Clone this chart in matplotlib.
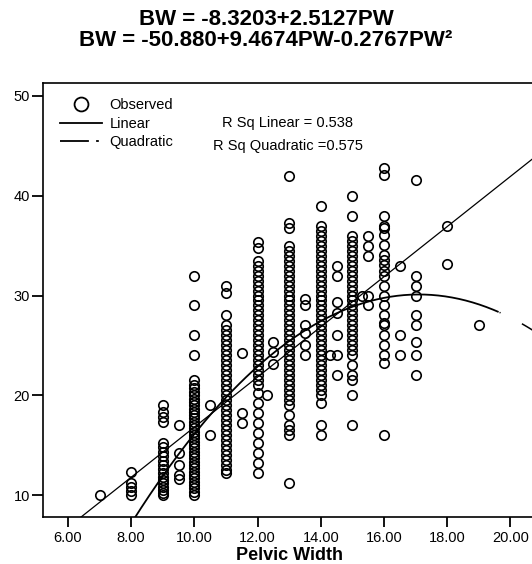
import matplotlib
matplotlib.use("Agg")
import matplotlib.pyplot as plt
from matplotlib.lines import Line2D
import numpy as np

plt.rcParams["font.family"] = ["Liberation Sans", "DejaVu Sans"]
plt.rcParams["font.size"] = 10.5

# observed points, one list per pelvic width column
pw_7 = [10]
pw_8 = [12.3, 11.2, 10.8, 10.4, 10]
pw_9 = [19, 18.3, 17.8, 17.3, 15.2, 14.8, 14.3, 13.9, 13.4, 13, 12.6, 12.2,
        11.8, 11.5, 11.2, 10.8, 10.5, 10.2, 10]
pw_9_5 = [17, 14.2, 13, 12, 11.6]
pw_10 = [32, 29, 26, 24, 21.5, 21, 20.7, 20.3, 20, 19.6, 19.3, 19, 18.6, 18.3,
         18, 17.7, 17.3, 17, 16.7, 16.3, 16, 15.7, 15.3, 15, 14.7, 14.3, 14,
         13.7, 13.3, 13, 12.7, 12.3, 12, 11.7, 11.3, 11, 10.7, 10.3, 10]
pw_10_5 = [19, 16]
pw_11 = [31, 30.3, 28, 27, 26.5, 26, 25.5, 25, 24.5, 24, 23.5, 23, 22.5, 22,
         21.5, 21, 20.5, 20, 19.5, 19, 18.5, 18, 17.5, 17, 16.5, 16, 15.5, 15,
         14.5, 14, 13.5, 13, 12.5, 12.2]
pw_11_5 = [24.2, 18.2, 17.2]
pw_12 = [35.4, 34.8, 33.5, 33, 32.5, 32, 31.5, 31, 30.5, 30, 29.5, 29, 28.5,
         28, 27.5, 27, 26.5, 26, 25.5, 25, 24.5, 24, 23.5, 23, 22.5, 22, 21.5,
         21, 20.2, 19.2, 18.2, 17.2, 16.2, 15.2, 14.2, 13.2, 12.2]
pw_12_3 = [20]
pw_12_5 = [25.3, 24.3, 23.1]
pw_13 = [42, 37.3, 36.8, 35, 34.5, 34, 33.5, 33, 32.5, 32, 31.5, 31, 30.5, 30,
         29.5, 29, 28.5, 28, 27.5, 27, 26.5, 26, 25.5, 25, 24.5, 24, 23.5, 23,
         22.5, 22, 21.5, 21, 20.5, 20, 19.5, 19, 18, 17, 16.5, 16, 11.2]
pw_13_5 = [29.7, 29, 27, 26.2, 25, 24]
pw_14 = [39, 37, 36.5, 36, 35.5, 35, 34.5, 34, 33.5, 33, 32.5, 32, 31.5, 31,
         30.5, 30, 29.5, 29, 28.5, 28, 27.5, 27, 26.5, 26, 25.5, 25, 24.5, 24,
         23.5, 23, 22.5, 22, 21.5, 21, 20.5, 20, 19.2, 17, 16]
pw_14_3 = [24]
pw_14_5 = [33, 32, 29.3, 28.2, 26, 24, 22]
pw_15 = [40, 38, 36, 35.5, 35, 34.5, 34, 33.5, 33, 32.5, 32, 31.5, 31, 30.5,
         30, 29.5, 29, 28.5, 28, 27.5, 27, 26.5, 26, 25.5, 25, 24.5, 24, 23,
         22, 21.5, 20, 17]
pw_15_3 = [30]
pw_15_5 = [36, 35, 34, 30, 29]
pw_16 = [42.8, 42.1, 38, 37, 36.8, 36.1, 35.1, 34.1, 33.6, 33.1, 32.5, 32, 31,
         30, 29, 28, 27.2, 27, 26, 25, 24, 23.2, 16]
pw_16_5 = [33, 26, 24]
pw_17 = [41.6, 32, 31, 30, 28, 27, 25.3, 24, 22]
pw_18 = [37, 33.2]
pw_19 = [27]

columns = {7: pw_7, 8: pw_8, 9: pw_9, 9.5: pw_9_5, 10: pw_10, 10.5: pw_10_5,
           11: pw_11, 11.5: pw_11_5, 12: pw_12, 12.3: pw_12_3, 12.5: pw_12_5,
           13: pw_13, 13.5: pw_13_5, 14: pw_14, 14.3: pw_14_3, 14.5: pw_14_5,
           15: pw_15, 15.3: pw_15_3, 15.5: pw_15_5, 16: pw_16, 16.5: pw_16_5,
           17: pw_17, 18: pw_18, 19: pw_19}

# fitted curves
lin_coef = [-8.3203, 2.5127]
quad_coef = [-50.880, 9.4674, -0.2767]
r2_linear = 0.538
r2_quad = 0.575

x_ticks = [6, 8, 10, 12, 14, 16, 18, 20]
y_ticks = [10, 20, 30, 40, 50]

fig = plt.figure(figsize=(5.32, 5.64), dpi=100)
ax = fig.add_axes([43 / 532, 47 / 564, 499 / 532, 434 / 564])

pw = []
bw = []
for k in columns:
    for v in columns[k]:
        pw.append(k)
        bw.append(v)

ax.plot(pw, bw, linestyle="none", marker="o", ms=6.8, mfc="none",
        mec="black", mew=1.2)

xs = np.linspace(5.2, 21.0, 200)
ax.plot(xs, lin_coef[0] + lin_coef[1] * xs, color="black", lw=0.9)

# quadratic: solid until ~19.6 then dash-dot tail (like the spss output)
xq1 = np.linspace(5.2, 19.6, 200)
xq2 = np.linspace(19.6, 21.0, 30)
ax.plot(xq1, quad_coef[0] + quad_coef[1] * xq1 + quad_coef[2] * xq1 ** 2,
        color="black", lw=1.3)
ax.plot(xq2, quad_coef[0] + quad_coef[1] * xq2 + quad_coef[2] * xq2 ** 2,
        color="black", lw=1.1, linestyle=(36.4, (0.7, 15.7, 20, 1.3)))

ax.set_xlim(5.21, 21.0)
ax.set_ylim(7.8, 51.3)
ax.set_xticks(x_ticks)
ax.set_xticklabels(["%.2f" % t for t in x_ticks])
ax.set_yticks(y_ticks)
ax.set_yticklabels([str(t) for t in y_ticks])
ax.tick_params(direction="out", length=7, width=1.3, labelsize=10.5, pad=3)
ax.tick_params(axis="y", length=8, pad=1.5)
for s in ax.spines.values():
    s.set_linewidth(1.2)

fig.text(289 / 532, 3.5 / 564, "Pelvic Width", ha="center", va="baseline",
         fontsize=13, fontweight="bold")

handles = [Line2D([], [], linestyle="none", marker="o", ms=10, mfc="none",
                  mec="black", mew=1.3),
           Line2D([], [], color="black", lw=1.3),
           Line2D([], [], color="black", lw=1.3, linestyle=(0, (16, 4, 1.5, 4)))]
ax.legend(handles, ["Observed", "Linear", "Quadratic"], loc="upper left",
          bbox_to_anchor=(0.008, 0.995), frameon=False, fontsize=10.5,
          handlelength=2.9, handletextpad=0.5, labelspacing=0.3)

ax.text(0.49, 0.908, "R Sq Linear = %.3f" % r2_linear, transform=ax.transAxes,
        ha="center", va="center", fontsize=10.5)
ax.text(0.49, 0.855, "R Sq Quadratic =%.3f" % r2_quad, transform=ax.transAxes,
        ha="center", va="center", fontsize=10.5)

fig.text(0.5, 1 - 19.5 / 564, "BW = -8.3203+2.5127PW", ha="center",
         va="center", fontsize=16, fontweight="bold")
fig.text(0.5, 1 - 40.5 / 564, "BW = -50.880+9.4674PW-0.2767PW\u00b2",
         ha="center", va="center", fontsize=16, fontweight="bold")

fig.savefig("out.png", dpi=100)
